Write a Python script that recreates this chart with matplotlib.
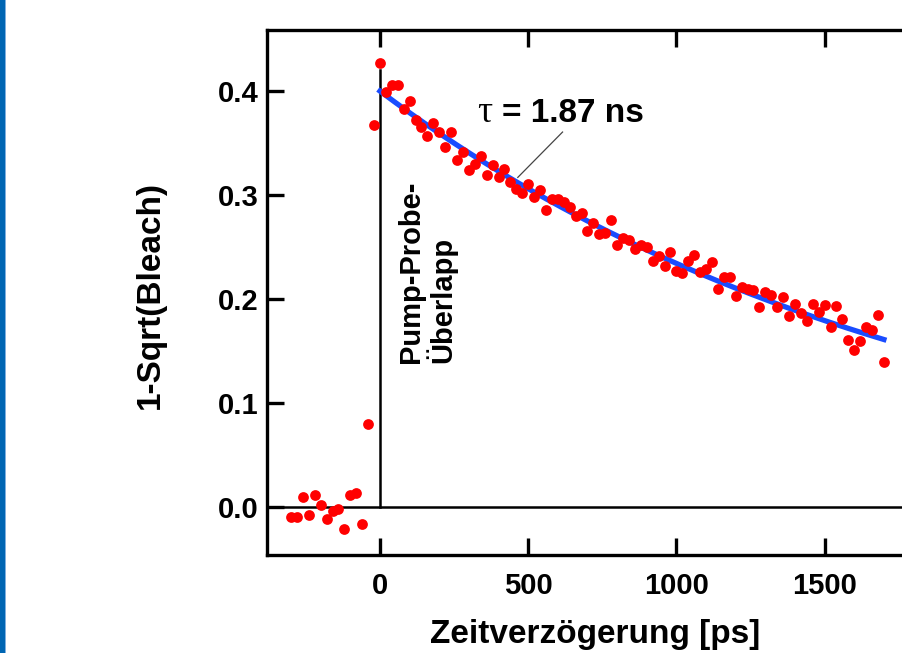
import matplotlib
matplotlib.use('Agg')
import matplotlib.pyplot as plt
import numpy as np
from matplotlib.patches import Rectangle

plt.rcParams['font.family'] = ['Liberation Sans', 'DejaVu Sans']
plt.rcParams['font.weight'] = 'bold'

# Messpunkte vor dem Zeitnullpunkt (inkl. Anstieg)
t_pre = [-300, -280, -260, -240, -220, -200, -180, -160, -140, -120,
         -100, -80, -60, -40, -20, 0]
y_pre = [-0.009, -0.009, 0.010, -0.008, 0.0115, 0.002, -0.011, -0.004, -0.002, -0.021,
         0.0115, 0.014, -0.016, 0.080, 0.367, 0.427]

# Messpunkte nach dem Zeitnullpunkt (20 ps Schritte)
t_post = list(range(20, 1701, 20))
y_post = [0.399, 0.406, 0.406, 0.383, 0.390, 0.372, 0.365, 0.357, 0.369, 0.361,
          0.346, 0.361, 0.334, 0.341, 0.324, 0.330, 0.338, 0.319, 0.329, 0.317,
          0.325, 0.313, 0.306, 0.302, 0.311, 0.298, 0.305, 0.286, 0.296, 0.296,
          0.293, 0.289, 0.280, 0.283, 0.265, 0.273, 0.263, 0.264, 0.276, 0.252,
          0.259, 0.257, 0.248, 0.252, 0.250, 0.237, 0.241, 0.232, 0.245, 0.227,
          0.225, 0.237, 0.242, 0.226, 0.229, 0.236, 0.210, 0.221, 0.221, 0.203,
          0.212, 0.210, 0.209, 0.192, 0.207, 0.204, 0.192, 0.202, 0.184, 0.195,
          0.187, 0.179, 0.195, 0.188, 0.194, 0.173, 0.193, 0.181, 0.161, 0.151,
          0.160, 0.173, 0.170, 0.185, 0.140]

# Fit: A * exp(-t / tau)
fit_A = 0.400
fit_tau = 1870.0  # ps
fit_t = np.linspace(0, 1700, 200)
fit_y = fit_A * np.exp(-fit_t / fit_tau)

x_ticks = [0, 500, 1000, 1500]
y_ticks = [0.0, 0.1, 0.2, 0.3, 0.4]

fig = plt.figure(figsize=(9.03, 6.53), dpi=100)
fig.patch.set_facecolor('white')

# blauer Rand links
fig.add_artist(Rectangle((0, 0), 5 / 903, 1, transform=fig.transFigure,
                         color='#0066b3', lw=0))
fig.add_artist(Rectangle((5 / 903, 0), 1.2 / 903, 1, transform=fig.transFigure,
                         color='#7fb0e0', lw=0))

ax = fig.add_axes([267 / 903, 1 - 555 / 653, 0.716, (555 - 30) / 653])
ax.set_xlim(-381, 1800)
ax.set_ylim(-0.046, 0.4587)

ax.axhline(0, color='black', lw=1.8, zorder=1)
ax.plot([0, 0], [0, 0.42], color='black', lw=1.8, zorder=1)

ax.plot(fit_t, fit_y, color='#1a4cff', lw=3.8, zorder=2)
ax.scatter(t_pre + t_post, y_pre + y_post, s=60, color='#ff0000', lw=0, zorder=3)

for s in ax.spines.values():
    s.set_linewidth(2.4)

ax.set_xticks(x_ticks)
ax.set_yticks(y_ticks)
ax.set_yticklabels(['%.1f' % v for v in y_ticks])
ax.tick_params(direction='in', length=12, width=2.4, labelsize=21, top=True)
ax.tick_params(axis='x', pad=12)
ax.tick_params(axis='y', pad=6)

fig.text(150 / 903, 1 - 295 / 653, '1-Sqrt(Bleach)', rotation=90,
         ha='center', va='center', fontsize=24, fontweight='bold')
fig.text(595 / 903, 1 - 634 / 653, 'Zeitverzögerung [ps]',
         ha='center', va='center', fontsize=24, fontweight='bold')

# Beschriftungen
ax.text(58, 0.139, 'Pump-Probe-\nÜberlapp', rotation=90, ha='left', va='bottom',
        multialignment='left', fontsize=21, fontweight='bold', linespacing=1.0)

ax.text(328, 0.370, 'τ', family=['Liberation Serif', 'DejaVu Serif'],
        fontweight='normal', fontsize=27, va='baseline', ha='left')
ax.text(412, 0.370, '= 1.87 ns', fontsize=24, fontweight='bold',
        va='baseline', ha='left')
ax.plot([616, 465], [0.3606, 0.317], color='#444444', lw=0.9, zorder=2)

fig.savefig('out.png', dpi=100)
